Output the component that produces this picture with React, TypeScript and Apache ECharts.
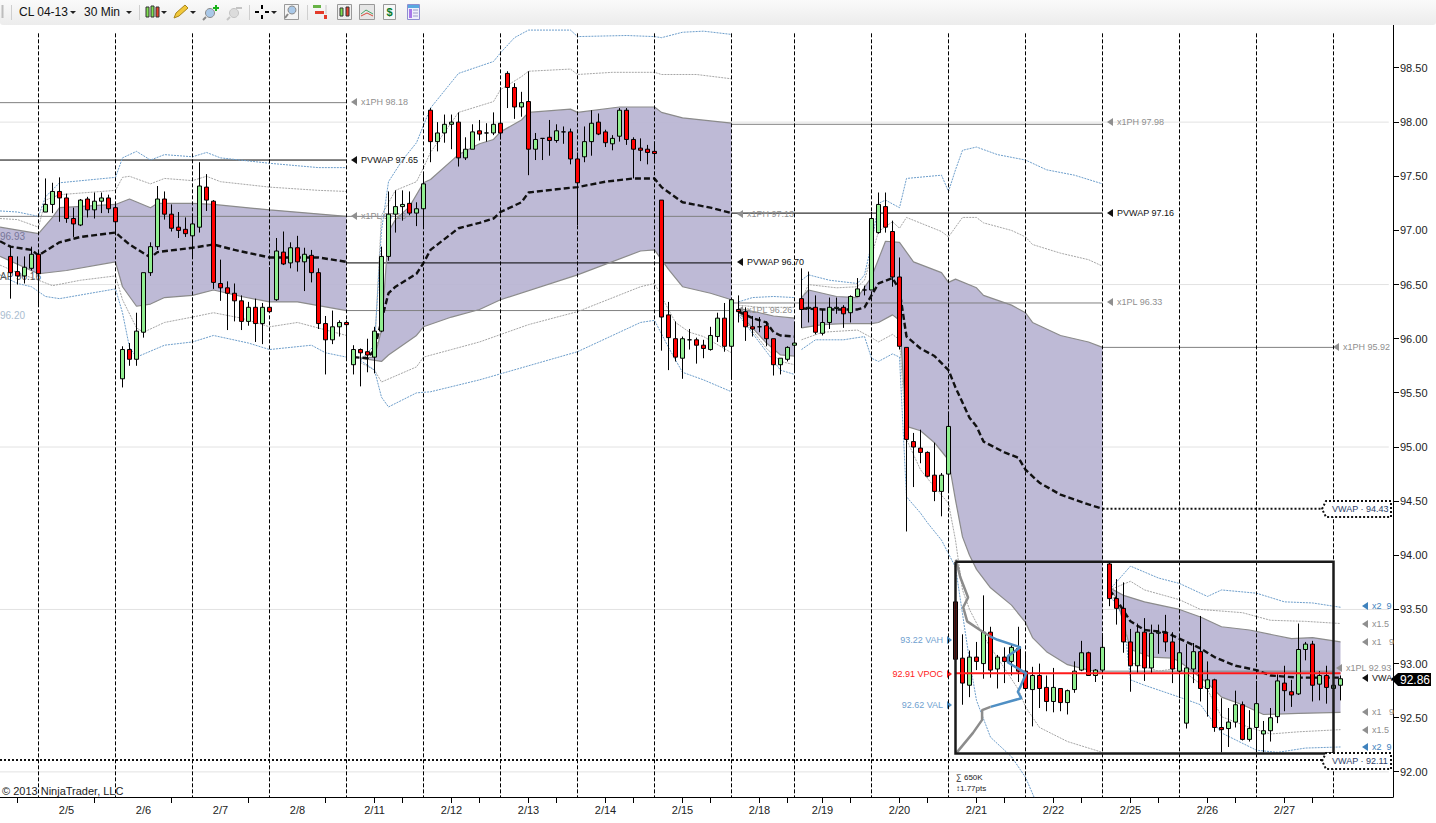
import React, { useEffect, useRef } from "react";
import * as echarts from "echarts";

type P = number[];

const FONT = "Liberation Sans";
const yTicks = [92, 92.5, 93, 93.5, 94, 94.5, 95, 95.5, 96, 96.5, 97, 97.5, 98, 98.5];
const gridPrices = [92, 93.5, 95, 96.5, 98];
const dayLabels: Record<number, string> = {
  9: "2/5", 20: "2/6", 31: "2/7", 42: "2/8", 53: "2/11", 64: "2/12", 75: "2/13", 86: "2/14", 97: "2/15",
  108: "2/18", 117: "2/19", 128: "2/20", 139: "2/21", 150: "2/22", 161: "2/25", 172: "2/26", 183: "2/27",
};
const tickBars = [2, 13, 24, 35, 46, 53, 57, 64, 68, 75, 79, 86, 90, 97, 101, 108, 112, 117, 121, 128, 132, 139, 143, 150, 154, 161, 165, 172, 176, 183, 187];
const sessionBars = [5, 16, 27, 38, 49, 60, 71, 82, 93, 104, 113, 124, 135, 146, 157, 168, 179, 190];
const BAR_SLOTS = 199;
const Y_MIN = 91.768;
const Y_MAX = 98.897;

// [open, close, low, high]
const feb4: any[] = [
  ["-", "-", "-", "-"],
  [96.76, 96.61, 96.37, 96.85], [96.62, 96.58, 96.5, 96.76], [96.58, 96.66, 96.51, 96.76], [96.65, 96.78, 96.63, 96.85], [96.78, 96.6, 96.31, 96.8],
];
const feb5 = [
  [97.17, 97.24, 97.17, 97.48], [97.24, 97.36, 97.16, 97.44], [97.36, 97.3, 97.08, 97.49], [97.3, 97.11, 97.07, 97.34], [97.11, 97.06, 96.94, 97.21], [97.05, 97.28, 97.04, 97.29],
  [97.29, 97.19, 97.12, 97.31], [97.19, 97.27, 97.11, 97.35], [97.27, 97.3, 97.16, 97.35], [97.3, 97.2, 97.16, 97.33], [97.21, 97.08, 96.98, 97.26],
];
const feb6 = [
  [95.63, 95.9, 95.55, 95.93], [95.9, 95.81, 95.75, 95.96], [95.81, 96.07, 95.75, 96.24], [96.06, 96.61, 96.01, 96.61], [96.61, 96.85, 96.58, 96.89], [96.85, 97.29, 96.82, 97.41],
  [97.29, 97.15, 97.1, 97.36], [97.15, 97.02, 96.99, 97.24], [97.03, 97.0, 96.93, 97.17], [97.01, 96.97, 96.94, 97.12], [96.95, 97.06, 96.75, 97.15],
];
const feb7 = [
  [97.03, 97.41, 96.98, 97.63], [97.4, 97.28, 97.18, 97.52], [97.27, 96.52, 96.46, 97.28], [96.51, 96.47, 96.35, 96.73], [96.47, 96.42, 96.08, 96.53], [96.42, 96.35, 96.16, 96.51],
  [96.35, 96.16, 96.08, 96.4], [96.16, 96.29, 96.12, 96.34], [96.29, 96.14, 95.97, 96.37], [96.14, 96.29, 95.95, 96.33], [96.29, 96.25, 96.24, 96.66],
];
const feb8 = [
  [96.36, 96.81, 96.35, 96.93], [96.8, 96.69, 96.68, 96.99], [96.7, 96.84, 96.65, 96.89], [96.84, 96.71, 96.62, 96.95], [96.71, 96.78, 96.44, 96.84], [96.77, 96.61, 96.52, 96.82],
  [96.61, 96.14, 96.09, 96.65], [96.14, 95.99, 95.67, 96.21], [95.99, 96.11, 95.95, 96.26], [96.11, 96.15, 96.02, 96.17], [96.15, 96.13, 95.82, 96.17],
];
const feb11 = [
  [95.76, 95.9, 95.67, 95.94], [95.9, 95.87, 95.56, 95.91], [95.88, 95.85, 95.69, 96.0], [95.83, 96.07, 95.68, 96.11], [96.07, 96.76, 96.06, 96.85], [96.76, 97.15, 96.72, 97.36],
  [97.15, 97.22, 96.98, 97.37], [97.22, 97.24, 97.09, 97.37], [97.25, 97.16, 97.14, 97.36], [97.16, 97.2, 97.04, 97.26], [97.2, 97.43, 97.03, 97.52],
];
const feb12 = [
  [98.11, 97.82, 97.63, 98.13], [97.82, 97.9, 97.73, 98.0], [97.9, 97.98, 97.81, 98.07], [97.98, 98.0, 97.75, 98.07], [98.0, 97.67, 97.59, 98.09], [97.67, 97.75, 97.65, 97.86],
  [97.75, 97.91, 97.75, 97.98], [97.92, 97.89, 97.83, 98.02], [97.9, 97.9, 97.82, 97.99], [97.9, 97.98, 97.88, 98.09], [97.99, 97.9, 97.84, 98.32],
];
const feb13 = [
  [98.45, 98.32, 98.13, 98.47], [98.32, 98.14, 98.03, 98.36], [98.14, 98.18, 98.05, 98.28], [98.19, 97.75, 97.51, 98.47], [97.75, 97.84, 97.65, 97.9], [97.85, 97.85, 97.65, 97.85],
  [97.86, 97.83, 97.69, 98.02], [97.83, 97.92, 97.81, 97.98], [97.91, 97.91, 97.8, 97.96], [97.91, 97.66, 97.61, 97.94], [97.66, 97.44, 97.05, 97.72],
];
const feb14 = [
  [97.68, 97.82, 97.63, 97.96], [97.82, 97.99, 97.69, 98.11], [98.0, 97.89, 97.88, 98.08], [97.91, 97.81, 97.77, 97.93], [97.8, 97.85, 97.74, 97.88], [97.87, 98.11, 97.82, 98.13],
  [98.11, 97.84, 97.79, 98.13], [97.84, 97.75, 97.48, 97.86], [97.76, 97.74, 97.64, 97.85], [97.75, 97.72, 97.61, 97.79], [97.73, 97.71, 97.62, 97.82],
];
const feb15 = [
  [97.28, 96.2, 95.89, 97.28], [96.22, 96.01, 95.71, 96.34], [96.0, 95.83, 95.79, 96.16], [95.82, 96.0, 95.63, 96.02], [95.99, 95.99, 95.9, 96.09], [95.99, 95.94, 95.77, 96.01],
  [95.94, 95.91, 95.82, 95.99], [95.9, 96.03, 95.89, 96.11], [96.02, 96.19, 95.97, 96.24], [96.19, 95.93, 95.88, 96.33], [95.93, 96.36, 95.62, 96.36],
];
const feb18 = [
  [96.27, 96.25, 96.15, 96.4], [96.25, 96.11, 95.98, 96.29], [96.11, 96.09, 96.02, 96.21], [96.11, 96.11, 96.06, 96.2], [96.12, 96.0, 95.93, 96.16], [96.0, 95.76, 95.66, 96.0],
  [95.76, 95.82, 95.67, 95.82], [95.81, 95.92, 95.79, 95.93], [95.94, 95.96, 95.69, 96.13],
];
const feb19 = [
  [96.37, 96.27, 96.1, 96.65], [96.28, 96.29, 96.15, 96.62], [96.29, 96.06, 96.04, 96.4], [96.05, 96.15, 96.03, 96.27], [96.15, 96.29, 96.09, 96.38], [96.28, 96.29, 96.23, 96.38],
  [96.29, 96.23, 96.1, 96.31], [96.24, 96.39, 96.15, 96.4], [96.39, 96.46, 96.39, 96.56], [96.45, 96.45, 96.4, 96.49], [96.45, 97.11, 96.45, 97.17],
];
const feb20 = [
  [96.98, 97.24, 96.97, 97.35], [97.22, 97.03, 96.98, 97.35], [96.99, 96.57, 96.48, 97.09], [96.57, 95.93, 95.9, 96.75], [95.92, 95.07, 94.22, 95.92], [95.05, 95.0, 94.63, 95.13],
  [94.99, 94.95, 94.85, 95.16], [94.95, 94.73, 94.72, 94.96], [94.74, 94.59, 94.5, 95.04], [94.59, 94.74, 94.36, 94.76], [94.75, 95.19, 94.6, 95.3],
];
const feb21 = [
  [93.57, 93.04, 93.04, 93.57], [93.05, 92.82, 92.62, 93.27], [92.8, 93.06, 92.69, 93.12], [93.06, 93.02, 92.94, 93.2], [93.0, 93.29, 92.86, 93.63], [93.29, 92.94, 92.87, 93.34],
  [92.95, 93.06, 92.77, 93.08], [93.06, 93.02, 92.82, 93.15], [93.02, 93.15, 92.89, 93.17], [93.14, 92.93, 92.83, 93.34], [92.93, 92.77, 92.77, 93.1],
];
const feb22 = [
  [92.76, 92.89, 92.42, 92.97], [92.89, 92.77, 92.59, 93.0], [92.78, 92.65, 92.56, 92.89], [92.65, 92.78, 92.55, 92.96], [92.77, 92.64, 92.56, 92.77], [92.64, 92.75, 92.53, 92.76],
  [92.76, 92.93, 92.73, 93.02], [92.94, 93.1, 92.93, 93.21], [93.1, 92.89, 92.89, 93.11], [92.89, 92.94, 92.83, 92.95], [92.94, 93.15, 92.93, 93.28],
];
const feb25 = [
  [93.92, 93.6, 93.53, 93.94], [93.6, 93.51, 93.36, 93.78], [93.51, 93.2, 93.1, 93.75], [93.2, 92.98, 92.74, 93.32], [92.98, 93.29, 92.91, 93.37], [93.29, 92.96, 92.84, 93.42],
  [92.96, 93.28, 92.91, 93.36], [93.28, 93.29, 93.09, 93.36], [93.28, 93.2, 93.11, 93.45], [93.2, 92.95, 92.82, 93.29], [92.93, 93.1, 92.68, 93.27],
];
const feb26 = [
  [92.45, 92.96, 92.4, 93.18], [92.95, 93.11, 92.82, 93.19], [93.11, 92.77, 92.65, 93.44], [92.77, 92.85, 92.51, 93.02], [92.85, 92.41, 92.37, 92.86], [92.41, 92.39, 92.18, 92.68],
  [92.4, 92.46, 92.23, 92.59], [92.46, 92.62, 92.41, 92.75], [92.62, 92.3, 92.29, 92.65], [92.3, 92.4, 92.28, 92.57], [92.41, 92.63, 92.18, 92.84],
];
const feb27 = [
  [92.35, 92.38, 92.18, 92.47], [92.38, 92.5, 92.28, 92.59], [92.51, 92.84, 92.45, 92.9], [92.82, 92.75, 92.56, 92.98], [92.74, 92.71, 92.6, 92.85], [92.72, 93.13, 92.71, 93.37],
  [93.13, 93.18, 93.03, 93.2], [93.18, 92.8, 92.65, 93.21], [92.81, 92.89, 92.66, 92.93], [92.89, 92.78, 92.63, 92.98], [92.77, 92.8, 92.66, 92.89], [92.8, 92.86, 92.66, 92.89],
];
const candles = [...feb4, ...feb5, ...feb6, ...feb7, ...feb8, ...feb11, ...feb12, ...feb13, ...feb14, ...feb15, ...feb18, ...feb19, ...feb20, ...feb21, ...feb22, ...feb25, ...feb26, ...feb27];

// [bar, price] readings of the VWAP study, one list per anchored stretch
const vwapA: P[] = [[-0.5, 96.9], [1, 96.85], [3, 96.83], [4, 96.82], [5, 96.77], [8, 96.89], [11, 96.94], [16, 96.98], [18, 96.87], [21, 96.75], [22, 96.8], [27, 96.84], [30, 96.87], [33, 96.82], [38, 96.75], [45, 96.75], [49, 96.71]];
const up1A: P[] = [[-0.5, 97.03], [5, 96.97], [7, 97.12], [8, 97.21], [16, 97.24], [18, 97.29], [21, 97.21], [22, 97.25], [27, 97.25], [30, 97.24], [38, 97.19], [49, 97.13]];
const dn1A: P[] = [[-0.5, 96.76], [5, 96.6], [9, 96.63], [16, 96.71], [17, 96.48], [19, 96.3], [21, 96.32], [23, 96.38], [27, 96.4], [30, 96.45], [34, 96.39], [38, 96.34], [42, 96.34], [49, 96.26]];
const up15A: P[] = [[-0.5, 97.11], [2, 97.1], [5, 97.03], [6, 97.28], [8, 97.33], [16, 97.37], [17, 97.49], [18, 97.5], [21, 97.43], [23, 97.48], [27, 97.46], [29, 97.5], [31, 97.45], [38, 97.4], [45, 97.37], [49, 97.36]];
const up2A: P[] = [[-0.5, 97.18], [2, 97.17], [5, 97.13], [6, 97.31], [8, 97.44], [16, 97.49], [17, 97.67], [19, 97.73], [21, 97.65], [23, 97.7], [27, 97.68], [29, 97.72], [31, 97.67], [38, 97.62], [45, 97.58], [49, 97.58]];
const dn15A: P[] = [[-0.5, 96.68], [2, 96.61], [5, 96.54], [7, 96.49], [11, 96.54], [16, 96.58], [17, 96.36], [19, 96.1], [20, 96.06], [23, 96.15], [27, 96.2], [30, 96.24], [34, 96.19], [38, 96.11], [42, 96.15], [49, 96.03]];
const dn2A: P[] = [[-0.5, 96.59], [2, 96.51], [4, 96.48], [6, 96.39], [8, 96.37], [16, 96.46], [17, 96.24], [18, 95.92], [19, 95.83], [23, 95.94], [27, 95.97], [30, 96.03], [35, 95.96], [38, 95.9], [44, 95.94], [46, 95.87], [49, 95.83]];

const vwapB: P[] = [[50, 95.83], [52, 95.82], [53, 95.9], [54, 96.17], [55, 96.42], [56, 96.48], [59, 96.6], [60, 96.7], [61, 96.82], [65, 97.02], [68, 97.07], [70, 97.11], [71, 97.17], [74, 97.26], [75, 97.35], [79, 97.38], [82, 97.4], [86, 97.45], [90, 97.48], [93, 97.48], [94, 97.4], [97, 97.26], [101, 97.21], [104, 97.16]];
const up1B: P[] = [[51, 95.82], [53, 95.83], [54, 96.08], [55, 96.99], [56, 97.1], [58, 97.22], [60, 97.44], [61, 97.47], [65, 97.7], [68, 97.8], [70, 97.84], [71, 97.91], [74, 98.02], [75, 98.09], [81, 98.12], [82, 98.09], [88, 98.14], [93, 98.14], [94, 98.09], [97, 98.04], [104, 97.99]];
const dn1B: P[] = [[51, 95.82], [54, 95.79], [55, 95.85], [59, 96.03], [60, 96.11], [64, 96.2], [68, 96.27], [71, 96.36], [82, 96.59], [91, 96.81], [93, 96.82], [95, 96.64], [97, 96.48], [101, 96.42], [104, 96.36]];
const up15B: P[] = [[51, 95.8], [53, 95.9], [54, 97.14], [56, 97.37], [59, 97.45], [60, 97.58], [61, 97.72], [65, 98.09], [70, 98.19], [71, 98.3], [74, 98.42], [75, 98.47], [81, 98.49], [82, 98.44], [87, 98.46], [93, 98.46], [94, 98.44], [99, 98.44], [104, 98.4]];
const up2B: P[] = [[51, 95.8], [53, 95.94], [54, 97.0], [55, 97.45], [57, 97.65], [59, 97.81], [61, 98.13], [65, 98.45], [70, 98.56], [71, 98.64], [73, 98.78], [75, 98.85], [81, 98.85], [82, 98.79], [89, 98.8], [93, 98.79], [94, 98.78], [97, 98.83], [100, 98.84], [104, 98.81]];
const dn15B: P[] = [[51, 95.78], [53, 95.71], [54, 95.6], [59, 95.74], [60, 95.83], [64, 95.9], [68, 95.97], [75, 96.13], [82, 96.25], [91, 96.48], [93, 96.51], [95, 96.27], [96, 96.15], [98, 96.06], [100, 96.02], [104, 95.87]];
const dn2B: P[] = [[51, 95.8], [53, 95.71], [54, 95.46], [55, 95.37], [59, 95.5], [61, 95.51], [68, 95.62], [75, 95.75], [82, 95.88], [91, 96.15], [93, 96.17], [95, 95.92], [97, 95.69], [100, 95.62], [104, 95.51]];

const vwapC: P[] = [[105, 96.25], [107, 96.19], [109, 96.15], [110, 96.06], [111, 96.03], [113, 96.02]];
const up1C: P[] = [[105, 96.28], [108, 96.24], [110, 96.21], [113, 96.19]];
const dn1C: P[] = [[105, 96.26], [106, 96.17], [109, 95.96], [111, 95.85], [113, 95.84]];
const up15C: P[] = [[105, 96.31], [108, 96.29], [113, 96.29]];
const up2C: P[] = [[105, 96.34], [107, 96.38], [110, 96.39], [113, 96.38]];
const dn15C: P[] = [[105, 96.24], [109, 95.91], [111, 95.79], [113, 95.76]];
const dn2C: P[] = [[105, 96.22], [109, 95.88], [111, 95.71], [113, 95.67]];

const vwapD: P[] = [[114, 96.28], [117, 96.27], [122, 96.27], [123, 96.29], [124, 96.4], [125, 96.51], [127, 96.56], [128, 96.45], [129, 96.02], [131, 95.91], [133, 95.84], [135, 95.71], [136, 95.55], [138, 95.27], [139, 95.19], [140, 95.05], [143, 94.95], [145, 94.9], [146, 94.79], [148, 94.67], [151, 94.56], [155, 94.47], [157, 94.43]];
const up1D: P[] = [[114, 96.38], [115, 96.45], [119, 96.39], [122, 96.38], [124, 96.57], [126, 96.9], [128, 96.89], [130, 96.71], [134, 96.61], [135, 96.52], [136, 96.55], [139, 96.47], [140, 96.4], [144, 96.31], [146, 96.24], [147, 96.15], [151, 96.03], [155, 95.97], [157, 95.92]];
const dn1D: P[] = [[114, 96.1], [117, 96.13], [120, 96.14], [124, 96.14], [125, 96.15], [127, 96.22], [128, 96.17], [129, 95.19], [131, 95.15], [133, 95.04], [135, 94.88], [136, 94.51], [137, 94.17], [138, 94.0], [139, 93.87], [141, 93.7], [144, 93.54], [146, 93.38], [147, 93.24], [149, 93.11], [152, 92.99], [155, 92.94], [157, 92.92]];
const up15D: P[] = [[114, 96.36], [115, 96.5], [119, 96.47], [122, 96.48], [123, 96.54], [125, 96.99], [127, 97.08], [128, 97.02], [129, 97.12], [134, 96.99], [135, 96.94], [137, 97.12], [139, 97.12], [140, 97.07], [144, 97.0], [146, 96.94], [147, 96.87], [151, 96.79], [155, 96.73], [157, 96.67]];
const up2D: P[] = [[114, 96.54], [115, 96.59], [118, 96.54], [122, 96.51], [123, 96.59], [124, 96.87], [125, 97.25], [126, 97.28], [128, 97.21], [129, 97.48], [134, 97.51], [135, 97.36], [136, 97.56], [137, 97.74], [139, 97.77], [142, 97.7], [146, 97.65], [149, 97.56], [153, 97.51], [157, 97.43]];
const dn15D: P[] = [[114, 95.99], [117, 96.06], [122, 96.08], [124, 96.01], [125, 95.97], [127, 96.04], [128, 95.99], [129, 95.07], [131, 94.79], [133, 94.63], [135, 94.48], [136, 94.14], [137, 93.68], [138, 93.5], [140, 93.25], [145, 92.76], [146, 92.6], [148, 92.41], [152, 92.28], [157, 92.18]];
const dn2D: P[] = [[114, 95.9], [116, 95.99], [120, 95.99], [123, 96.02], [124, 95.82], [125, 95.79], [127, 95.86], [128, 95.83], [129, 94.54], [131, 94.39], [132, 94.3], [134, 94.14], [136, 93.89], [138, 93.03], [139, 92.66], [141, 92.32], [144, 92.14], [146, 91.95], [148, 91.65]];

const vwapE: P[] = [[158, 93.68], [159, 93.59], [161, 93.39], [163, 93.31], [166, 93.29], [169, 93.2], [171, 93.14], [173, 93.06], [176, 92.98], [179, 92.94], [181, 92.89], [185, 92.87], [191, 92.87]];
const up1E: P[] = [[158, 93.7], [160, 93.63], [163, 93.57], [168, 93.5], [171, 93.43], [174, 93.34], [178, 93.31], [184, 93.23], [187, 93.24], [191, 93.2]];
const dn1E: P[] = [[158, 93.68], [159, 93.61], [161, 93.13], [164, 93.06], [167, 93.05], [168, 93.02], [172, 92.82], [174, 92.69], [177, 92.62], [180, 92.53], [185, 92.54], [191, 92.55]];
const up15E: P[] = [[158, 93.68], [161, 93.76], [163, 93.68], [168, 93.59], [171, 93.5], [177, 93.47], [181, 93.4], [186, 93.39], [191, 93.37]];
const up2E: P[] = [[158, 93.68], [161, 93.9], [165, 93.79], [168, 93.74], [172, 93.62], [174, 93.68], [179, 93.65], [183, 93.57], [187, 93.56], [191, 93.52]];
const dn15E: P[] = [[158, 93.66], [160, 93.47], [161, 93.01], [165, 92.93], [168, 92.96], [172, 92.76], [174, 92.51], [178, 92.41], [181, 92.35], [185, 92.37], [191, 92.39]];
const dn2E: P[] = [[158, 93.64], [160, 93.43], [161, 92.85], [163, 92.8], [168, 92.69], [171, 92.62], [174, 92.36], [179, 92.2], [182, 92.18], [186, 92.22], [191, 92.23]];

// horizontal levels: [from bar, to bar, price]
const pivotHighs: P[] = [[-0.5, 49, 98.18], [49, 104, 97.13], [104, 157, 97.98], [157, 190, 95.92]];
const pivotLows: P[] = [[-0.5, 49, 97.13], [49, 104, 96.26], [104, 157, 96.33], [157, 190, 92.93]];
const pvwaps: P[] = [[-0.5, 49, 97.65], [49, 104, 96.7], [104, 157, 97.16]];
const vwapCloses: P[] = [[157, 188.9, 94.43], [-0.5, 188.9, 92.11]];
const vpocPrice = 92.91;
const rangeBox: P[] = [[136, 93.94], [190, 93.94], [190, 92.17], [136, 92.17], [136, 93.94]];

// volume profile drawn in the box: [horizontal position, price]
const profileTop: P[] = [[136.06, 93.96], [136.67, 93.8], [137.8, 93.61], [137.1, 93.52], [137.67, 93.39], [139.5, 93.31], [141, 93.25]];
const profileValueArea: P[] = [[141, 93.25], [142, 93.22], [145.3, 93.15], [143.5, 93.07], [143.5, 93.01], [146.1, 92.91], [145.3, 92.79], [144.9, 92.74], [145.4, 92.68], [141, 92.6]];
const profileBottom: P[] = [[141, 92.6], [139.8, 92.57], [139.8, 92.48], [138.5, 92.36], [136.2, 92.18]];

type Lab = [number, number, string, string];
const levelLabels: Lab[] = [
  [351, 102, "x1PH 98.18", "#8f8f8f"], [351, 160, "PVWAP 97.65", "#111"], [351, 216, "x1PL 97.13", "#8f8f8f"],
  [737, 214, "x1PH 97.13", "#8f8f8f"], [737, 262, "PVWAP 96.70", "#111"], [737, 310, "x1PL 96.26", "#8f8f8f"],
  [1107, 122, "x1PH 97.98", "#8f8f8f"], [1107, 213, "PVWAP 97.16", "#111"], [1107, 302, "x1PL 96.33", "#8f8f8f"],
  [1333, 347, "x1PH 95.92", "#8f8f8f"], [1336, 668, "x1PL 92.93", "#8f8f8f"],
  [1362, 606, "x2  9", "#3f82bd"], [1362, 624, "x1.5", "#8f8f8f"], [1362, 642, "x1   9", "#8f8f8f"],
  [1362, 678, "VWA", "#111"], [1362, 712, "x1   9", "#8f8f8f"], [1362, 730, "x1.5", "#8f8f8f"], [1362, 747, "x2  9", "#3f82bd"],
];
const leftLabels: Lab[] = [[0, 236, "96.93", "#77779a"], [0, 276, "AP 96.16", "#555"], [0, 315, "96.20", "#a9bdd0"]];
const profileLabels: Lab[] = [[943, 640, "93.22 VAH", "#6f9fcf"], [943, 674, "92.91 VPOC", "#ff2020"], [943, 705, "92.62 VAL", "#6f9fcf"]];

const overlay = (name: string, data: any[], lineStyle: any, z: number) => ({
  type: "line", name, xAxisIndex: 1, yAxisIndex: 0, data, symbol: "none", silent: true, lineStyle, z,
});
const band = (upper: P[], lower: P[]) => {
  const pts = [...upper, ...[...lower].reverse()];
  return {
    type: "custom", xAxisIndex: 1, yAxisIndex: 0, data: pts, encode: { x: 0, y: 1 }, silent: true, z: 1, clip: true,
    renderItem: (params: any, api: any) =>
      params.dataIndex === 0
        ? { type: "polygon", shape: { points: pts.map((p) => api.coord(p)) }, style: { fill: "#b9b5d3", opacity: 0.93 } }
        : null,
  };
};
const axisTicks = (name: string, data: P[], dx: number, dy: number) => ({
  type: "custom", name, xAxisIndex: 1, yAxisIndex: 0, data, encode: { x: 0, y: 1 }, silent: true, z: 6, clip: false,
  renderItem: (_: any, api: any) => {
    const c = api.coord([api.value(0), api.value(1)]);
    const x = dx ? c[0] : Math.floor(c[0]) + 0.5;
    const y = dy ? Math.round(c[1]) : Math.floor(c[1]) + 0.5;
    return { type: "line", shape: { x1: x, y1: y, x2: x + dx, y2: y + dy }, style: { stroke: "#000", lineWidth: 1 } };
  },
});

const tri = (x: number, y: number, color: string, right = false): any => ({
  type: "polygon", z: 3,
  shape: { points: right ? [[x, y - 4], [x + 5, y], [x, y + 4]] : [[x + 6, y - 4], [x, y], [x + 6, y + 4]] },
  style: { fill: color },
});
const txt = (x: number, y: number, text: string, fill: string, fontSize = 9, align = "left", extra: any = {}): any => ({
  type: "text", x, y, z: 3, style: { text, fill, fontSize, fontFamily: FONT, align, verticalAlign: "middle", ...extra },
});
const rect = (x: number, y: number, w: number, h: number, fill: string, stroke?: string): any => ({
  type: "rect", z: 20, shape: { x, y, width: w, height: h }, style: { fill, stroke, lineWidth: 1 },
});
const seg = (x1: number, y1: number, x2: number, y2: number, stroke: string, lineWidth = 1): any => ({
  type: "line", z: 20, shape: { x1, y1, x2, y2 }, style: { stroke, lineWidth },
});
const caret = (x: number): any => ({ type: "polygon", z: 20, shape: { points: [[x - 3, 11], [x + 3, 11], [x, 14]] }, style: { fill: "#222" } });

const toolbar: any[] = [
  {
    type: "rect", z: 19, shape: { x: 0, y: 0, width: 1436, height: 25, r: [0, 0, 3, 3] },
    style: { fill: new echarts.graphic.LinearGradient(0, 0, 0, 1, [{ offset: 0, color: "#fafafa" }, { offset: 1, color: "#ececec" }]) },
  },
  seg(2.5, 5, 2.5, 18, "#bdbdbd", 2), seg(11.5, 5, 11.5, 20, "#cfcfcf"), seg(139.5, 5, 139.5, 20, "#cfcfcf"), seg(249.5, 5, 249.5, 20, "#cfcfcf"), seg(307.5, 5, 307.5, 20, "#cfcfcf"),
  { ...txt(19, 12, "CL 04-13", "#111", 12), z: 20 }, { ...txt(84, 12, "30 Min", "#111", 12), z: 20 },
  caret(73), caret(129), caret(164), caret(193), caret(274),
  rect(146, 7, 3, 10, "#7ee04f", "#333"), rect(151, 6, 3, 11, "#7ee04f", "#333"), rect(156, 7, 3, 10, "#e8402a", "#333"),
  { type: "polygon", z: 20, shape: { points: [[174, 18], [176, 13], [185, 5], [188, 8], [179, 16]] }, style: { fill: "#f2c83a", stroke: "#a8851c" } },
  { type: "circle", z: 20, shape: { cx: 210, cy: 13, r: 4.5 }, style: { fill: "#a9c8e8", stroke: "#8a8a8a" } }, seg(206, 17, 203, 20, "#888", 2), rect(213, 7, 6, 2, "#1ab21a"), rect(215, 5, 2, 6, "#1ab21a"),
  { type: "circle", z: 20, shape: { cx: 234, cy: 13, r: 4.5 }, style: { fill: "#dcdcdc", stroke: "#c4c4c4" } }, seg(230, 17, 227, 20, "#c4c4c4", 2), rect(236, 7, 6, 2, "#c4c4c4"),
  seg(255, 12, 259, 12, "#000", 2), seg(265, 12, 269, 12, "#000", 2), seg(262, 5, 262, 9, "#000", 2), seg(262, 15, 262, 19, "#000", 2),
  rect(284.5, 4.5, 14, 15, "#f4f4f4", "#999"), { type: "circle", z: 20, shape: { cx: 292, cy: 10, r: 4 }, style: { fill: "#a9c8e8", stroke: "#8a8a8a" } }, seg(288, 14, 285, 18, "#888", 2),
  rect(313, 5, 8, 3, "#67b346"), rect(315, 11, 9, 3, "#e33b2a"), rect(324, 15, 3, 4, "#e33b2a"), seg(326, 5, 326, 14, "#c8c8c8"),
  rect(337.5, 4.5, 14, 15, "#efefef", "#999"), rect(340, 8, 3, 8, "#7ee04f", "#333"), rect(346, 7, 3, 9, "#e8402a", "#333"),
  rect(359.5, 4.5, 15, 15, "#e6e6e6", "#999"), seg(361, 14, 366, 10, "#46a36b"), seg(366, 10, 373, 14, "#46a36b"), seg(361, 16, 367, 13, "#d84a3a"), seg(367, 13, 373, 16, "#d84a3a"),
  rect(383.5, 4.5, 12, 15, "#f7f7f7", "#999"), { ...txt(389.5, 12, "$", "#0a7a2a", 11, "center", { fontWeight: "bold" }), z: 20 },
  rect(407.5, 4.5, 12, 15, "#eef0fb", "#8e8ed0"), rect(408, 5, 11, 3, "#5aa8e0"), rect(409, 9, 3, 9, "#a878e8"), seg(413, 10, 418, 10, "#9a9ac8"), seg(413, 13, 418, 13, "#9a9ac8"), seg(413, 16, 418, 16, "#9a9ac8"),
];

const pentagon = (y: number, text: string): any[] => [
  {
    type: "polyline", z: 6,
    shape: { points: [[1391, y - 8], [1326, y - 8], [1322, y], [1326, y + 8], [1391, y + 8], [1391, y - 8]] },
    style: { stroke: "#111", lineWidth: 2, lineDash: [2, 2], fill: "#fff" },
  },
  { ...txt(1332, y, text, "#2d3f6b", 9), z: 7 },
];

const graphics: any[] = [
  ...toolbar,
  ...levelLabels.flatMap(([x, y, t, c]) => [tri(x, y, c), txt(x + 10, y, t, c)]),
  ...leftLabels.map(([x, y, t, c]) => txt(x, y, t, c, 10)),
  ...profileLabels.flatMap(([x, y, t, c]) => [txt(x, y, t, c, 9, "right"), tri(947, y, c === "#ff2020" ? "#ff2020" : "#4f8fc4", true)]),
  txt(956, 777, "∑ 650K", "#222", 8),
  txt(956, 788, "↕1.77pts", "#222", 8),
  txt(2, 791, "© 2013 NinjaTrader, LLC", "#222", 11),
  ...pentagon(509, "VWAP · 94.43"),
  ...pentagon(761, "VWAP · 92.11"),
  { type: "polygon", z: 8, shape: { points: [[1391, 679], [1398, 673], [1431, 673], [1431, 686], [1398, 686]] }, style: { fill: "#000" } },
  { ...txt(1415, 679.5, "92.86", "#fff", 12, "center"), z: 9 },
];

export default function App() {
  const ref = useRef<HTMLDivElement>(null);
  useEffect(() => {
    const chart = echarts.init(ref.current!, undefined, { renderer: "svg" });
    const studies: [string, any[], any, number][] = [
      ...[vwapA, vwapB, vwapC, vwapD, vwapE].map((d, i): [string, any[], any, number] => [`VWAP ${i}`, d, { color: "#111", width: 2.4, type: [6, 3] }, 3]),
      ...[up1A, dn1A, up1B, dn1B, up1C, dn1C, up1D, dn1D, up1E, dn1E].map((d, i): [string, any[], any, number] => [`Band x1 ${i}`, d, { color: "#8b8b8b", width: 1.2 }, 2]),
      ...[up15A, dn15A, up15B, dn15B, up15C, dn15C, up15D, dn15D, up15E, dn15E].map((d, i): [string, any[], any, number] => [`Band x1.5 ${i}`, d, { color: "#a6a6a6", width: 1, type: [2, 1] }, 2]),
      ...[up2A, dn2A, up2B, dn2B, up2C, dn2C, up2D, dn2D, up2E, dn2E].map((d, i): [string, any[], any, number] => [`Band x2 ${i}`, d, { color: "#6d9ecb", width: 1, type: [2, 1] }, 2]),
    ];
    const span = (l: P) => [[l[0], l[2]], [l[1], l[2]]];
    chart.setOption({
      animation: false,
      backgroundColor: "#fff",
      grid: { left: 0, top: 25, width: 7 * BAR_SLOTS, height: 772, containLabel: false },
      xAxis: [
        {
          type: "category",
          data: Array.from({ length: BAR_SLOTS }, (_, i) => dayLabels[i] ?? ""),
          boundaryGap: true,
          axisLine: { show: true, onZero: false, lineStyle: { color: "#000", width: 1 } },
          axisTick: { show: false },
          axisLabel: { interval: 0, color: "#222", fontSize: 11, fontFamily: FONT, margin: 7 },
          splitLine: { show: false },
        },
        { type: "value", min: -0.5, max: BAR_SLOTS - 0.5, show: false, splitLine: { show: false } },
      ],
      yAxis: {
        type: "value",
        position: "right",
        min: Y_MIN,
        max: Y_MAX,
        splitLine: { show: false },
        axisLine: { show: true, onZero: false, lineStyle: { color: "#000" } },
        axisTick: { show: false },
        axisLabel: { customValues: yTicks, color: "#222", fontSize: 11, fontFamily: FONT, margin: 7, formatter: (v: number) => v.toFixed(2) },
      },
      graphic: graphics,
      series: [
        ...gridPrices.map((p) => overlay(`Grid ${p}`, [[-0.5, p], [197.9, p]], { color: "#e2e2e2", width: 1 }, 0)),
        band(up1A, dn1A), band(up1B, dn1B), band(up1C, dn1C), band(up1D, dn1D), band(up1E, dn1E),
        ...pivotHighs.map((l, i) => overlay(`x1PH ${i}`, span(l), { color: "#808080", width: 1 }, 2)),
        ...pivotLows.map((l, i) => overlay(`x1PL ${i}`, span(l), { color: "#808080", width: 1 }, 2)),
        ...pvwaps.map((l, i) => overlay(`PVWAP ${i}`, span(l), { color: "#000", width: 1 }, 2)),
        ...vwapCloses.map((l, i) => overlay(`VWAP close ${i}`, span(l), { color: "#111", width: 2, type: [2, 2] }, 3)),
        ...studies.map(([n, d, s, z]) => overlay(n, d, s, z)),
        ...sessionBars.map((b) => overlay(`Session ${b}`, [[b, 98.82], [b, Y_MIN]], { color: "#000", width: 1, type: [4, 2] }, 3)),
        {
          type: "candlestick", name: "CL 04-13", xAxisIndex: 0, yAxisIndex: 0, data: candles, barWidth: 5, z: 4, silent: true,
          itemStyle: { color: "#90ee90", color0: "#ff0000", borderColor: "#000", borderColor0: "#000", borderColorDoji: "#000", borderWidth: 1 },
        },
        overlay("VPOC", [[136, vpocPrice], [191, vpocPrice]], { color: "#ff1a1a", width: 2 }, 5),
        overlay("Profile top", profileTop, { color: "#8c8c8c", width: 2.5 }, 5),
        overlay("Profile value area", profileValueArea, { color: "#4f8fc4", width: 2.5 }, 5),
        overlay("Profile bottom", profileBottom, { color: "#8c8c8c", width: 2.5 }, 5),
        overlay("Range box", rangeBox, { color: "#1a1a1a", width: 2.5, join: "miter" }, 5),
        axisTicks("Time ticks", tickBars.map((b) => [b, Y_MIN]), 0, 6),
        axisTicks("Price ticks", yTicks.map((v) => [BAR_SLOTS - 0.5, v]), 6, 0),
      ],
    });
    return () => chart.dispose();
  }, []);
  return <div ref={ref} style={{ position: "absolute", left: 0, top: 0, width: 1436, height: 823 }} />;
}
